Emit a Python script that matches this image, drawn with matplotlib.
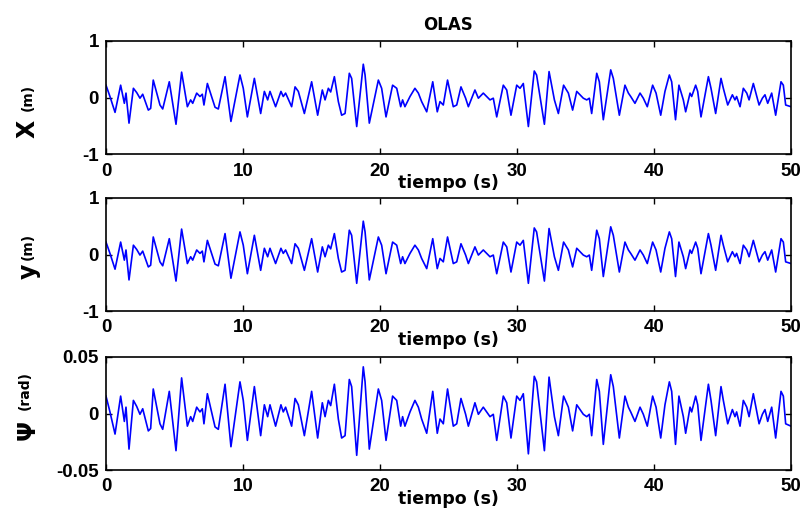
import matplotlib
matplotlib.use("Agg")
import matplotlib.pyplot as plt

# wave-induced motion sampled at its turning points
t_s = [
    0.00, 0.29, 0.66, 1.07, 1.34, 1.46, 1.68, 2.00, 2.24, 2.48,
    2.68, 3.09, 3.26, 3.45, 3.94, 4.14, 4.62, 5.11, 5.52, 5.94,
    6.18, 6.33, 6.62, 6.86, 7.03, 7.15, 7.40, 7.96, 8.20, 8.69,
    9.12, 9.78, 10.02, 10.32, 10.83, 11.29, 11.56, 11.80, 11.97, 12.38,
    12.77, 12.94, 13.11, 13.55, 13.80, 14.04, 14.48, 15.01, 15.45, 15.79,
    15.99, 16.23, 16.40, 16.67, 16.96, 17.20, 17.45, 17.76, 17.93, 18.30,
    18.78, 18.91, 19.22, 19.88, 20.12, 20.44, 20.92, 21.22, 21.51, 21.65,
    21.82, 22.19, 22.55, 22.80, 23.04, 23.41, 23.85, 24.18, 24.38, 24.62,
    24.93, 25.35, 25.60, 25.91, 26.25, 26.45, 26.93, 27.18, 27.54, 28.03,
    28.27, 28.52, 29.00, 29.25, 29.56, 29.98, 30.22, 30.46, 30.83, 31.26,
    31.43, 32.00, 32.34, 32.73, 33.02, 33.40, 33.75, 34.06, 34.36, 34.84,
    35.09, 35.28, 35.45, 35.82, 36.01, 36.30, 36.84, 37.03, 37.47, 37.88,
    38.13, 38.30, 38.61, 38.98, 39.22, 39.51, 39.90, 40.15, 40.49, 40.80,
    41.12, 41.29, 41.57, 41.82, 42.14, 42.31, 42.63, 42.75, 43.04, 43.19,
    43.43, 43.97, 44.16, 44.50, 44.89, 45.06, 45.38, 45.72, 45.91, 46.03,
    46.28, 46.52, 46.77, 46.94, 47.25, 47.67, 47.91, 48.10, 48.30, 48.59,
    48.88, 49.27, 49.44, 49.61, 50.00,
]

x_m = [
    0.22, 0.02, -0.26, 0.22, -0.10, 0.08, -0.45, 0.165, 0.09, -0.01,
    0.06, -0.22, -0.19, 0.31, -0.13, -0.20, 0.28, -0.47, 0.45, -0.16,
    -0.04, -0.10, 0.08, 0.02, 0.06, -0.13, 0.25, -0.17, -0.20, 0.37,
    -0.42, 0.40, 0.165, -0.34, 0.34, -0.28, 0.11, -0.04, 0.11, -0.16,
    0.11, 0.02, 0.08, -0.16, 0.19, 0.11, -0.28, 0.28, -0.31, 0.135,
    -0.04, 0.165, 0.10, 0.37, -0.07, -0.31, -0.28, 0.43, 0.34, -0.51,
    0.59, 0.40, -0.45, 0.31, 0.165, -0.34, 0.22, 0.165, -0.16, -0.04,
    -0.16, 0.02, 0.165, 0.08, -0.07, -0.25, 0.28, -0.25, -0.07, -0.13,
    0.31, -0.16, -0.13, 0.19, -0.01, -0.16, 0.135, -0.01, 0.08, -0.04,
    -0.01, -0.34, 0.22, 0.135, -0.31, 0.22, 0.165, 0.25, -0.51, 0.47,
    0.40, -0.47, 0.46, -0.04, -0.28, 0.22, 0.08, -0.22, 0.11, -0.01,
    -0.04, -0.01, -0.28, 0.43, 0.28, -0.39, 0.49, 0.34, -0.31, 0.22,
    0.08, 0.02, -0.10, 0.08, -0.01, -0.16, 0.22, 0.08, -0.31, 0.11,
    0.40, 0.28, -0.39, 0.22, -0.04, -0.25, 0.08, 0.02, 0.22, 0.11,
    -0.34, 0.37, 0.165, -0.28, 0.34, 0.165, -0.13, 0.05, -0.04, 0.02,
    -0.16, 0.165, 0.08, -0.04, 0.25, -0.13, -0.01, 0.05, -0.10, 0.08,
    -0.31, 0.28, 0.22, -0.13, -0.16,
]

# sway follows the same record as surge
y_m = list(x_m)

psi_rad = [
    0.0154, 0.0014, -0.0182, 0.0154, -0.0070, 0.0056, -0.0315, 0.0116, 0.0063, -0.0007,
    0.0042, -0.0154, -0.0133, 0.0217, -0.0091, -0.0140, 0.0196, -0.0329, 0.0315, -0.0112,
    -0.0028, -0.0070, 0.0056, 0.0014, 0.0042, -0.0091, 0.0175, -0.0119, -0.0140, 0.0259,
    -0.0294, 0.0280, 0.0116, -0.0238, 0.0238, -0.0196, 0.0077, -0.0028, 0.0077, -0.0112,
    0.0077, 0.0014, 0.0056, -0.0112, 0.0133, 0.0077, -0.0196, 0.0196, -0.0217, 0.0095,
    -0.0028, 0.0116, 0.0070, 0.0259, -0.0049, -0.0217, -0.0196, 0.0301, 0.0238, -0.0370,
    0.0413, 0.0280, -0.0315, 0.0217, 0.0116, -0.0238, 0.0154, 0.0116, -0.0112, -0.0028,
    -0.0112, 0.0014, 0.0116, 0.0056, -0.0049, -0.0175, 0.0196, -0.0175, -0.0049, -0.0091,
    0.0217, -0.0112, -0.0091, 0.0133, -0.0007, -0.0112, 0.0095, -0.0007, 0.0056, -0.0028,
    -0.0007, -0.0238, 0.0154, 0.0095, -0.0217, 0.0154, 0.0116, 0.0175, -0.0357, 0.0329,
    0.0280, -0.0329, 0.0322, -0.0028, -0.0196, 0.0154, 0.0056, -0.0154, 0.0077, -0.0007,
    -0.0028, -0.0007, -0.0196, 0.0301, 0.0196, -0.0273, 0.0343, 0.0238, -0.0217, 0.0154,
    0.0056, 0.0014, -0.0070, 0.0056, -0.0007, -0.0112, 0.0154, 0.0056, -0.0217, 0.0077,
    0.0280, 0.0196, -0.0273, 0.0154, -0.0028, -0.0175, 0.0056, 0.0014, 0.0154, 0.0077,
    -0.0238, 0.0259, 0.0116, -0.0196, 0.0238, 0.0116, -0.0091, 0.0035, -0.0028, 0.0014,
    -0.0112, 0.0116, 0.0056, -0.0028, 0.0175, -0.0091, -0.0007, 0.0035, -0.0070, 0.0056,
    -0.0217, 0.0196, 0.0154, -0.0091, -0.0112,
]

x_ticks = [0, 10, 20, 30, 40, 50]
pos_ticks = [-1, 0, 1]
pos_labels = ["-1", "0", "1"]
psi_ticks = [-0.05, 0, 0.05]
psi_labels = ["-0.05", "0", "0.05"]

plt.rcParams["axes.unicode_minus"] = False

fig = plt.figure(figsize=(8.06, 5.22), dpi=100)
boxes = [
    [0.1315, 0.7044, 0.8499, 0.2171],
    [0.1315, 0.4042, 0.8499, 0.2165],
    [0.1315, 0.0996, 0.8499, 0.2165],
]
series = [x_m, y_m, psi_rad]

tick_font = dict(family="Liberation Sans", weight="bold", size=13.5)
axes = []
for box, vals in zip(boxes, series):
    ax = fig.add_axes(box)
    ax.plot(t_s, vals, color="#0000ff", lw=1.2)
    ax.set_xlim(0, 50)
    ax.set_xticks(x_ticks)
    ax.set_xticklabels([str(v) for v in x_ticks], fontdict=tick_font)
    ax.tick_params(direction="in", length=4, width=1, top=True, right=True)
    ax.tick_params(axis="x", pad=6)
    ax.tick_params(axis="y", pad=5)
    for s in ax.spines.values():
        s.set_linewidth(1.2)
    ax.set_xlabel("tiempo (s)", family="DejaVu Sans", weight="bold", size=12.5, labelpad=-4)
    axes.append(ax)

for ax in axes[:2]:
    ax.set_ylim(-1, 1)
    ax.set_yticks(pos_ticks)
    ax.set_yticklabels(pos_labels, fontdict=tick_font)
axes[2].set_ylim(-0.05, 0.05)
axes[2].set_yticks(psi_ticks)
axes[2].set_yticklabels(psi_labels, fontdict=tick_font)

axes[0].set_title("OLAS", family="DejaVu Sans", weight="bold", size=12, pad=8)

# y-axis names: large symbol with a smaller unit above it
big = dict(family="DejaVu Sans", weight="bold", size=17, rotation=90, ha="center", va="center")
small = dict(family="DejaVu Sans", weight="bold", size=10, rotation=90, ha="center", va="center")
fig.text(28 / 806, 1 - 129 / 522, "X", **big)
fig.text(28 / 806, 1 - 97 / 522, "(m)", **small)
fig.text(29 / 806, 1 - 271 / 522, "y", **big)
fig.text(28 / 806, 1 - 246 / 522, "(m)", **small)
fig.text(28 / 806, 1 - 430 / 522, "\u03a8", **big)
fig.text(25 / 806, 1 - 390 / 522, "(rad)", **small)

fig.savefig("out.png", dpi=100)
